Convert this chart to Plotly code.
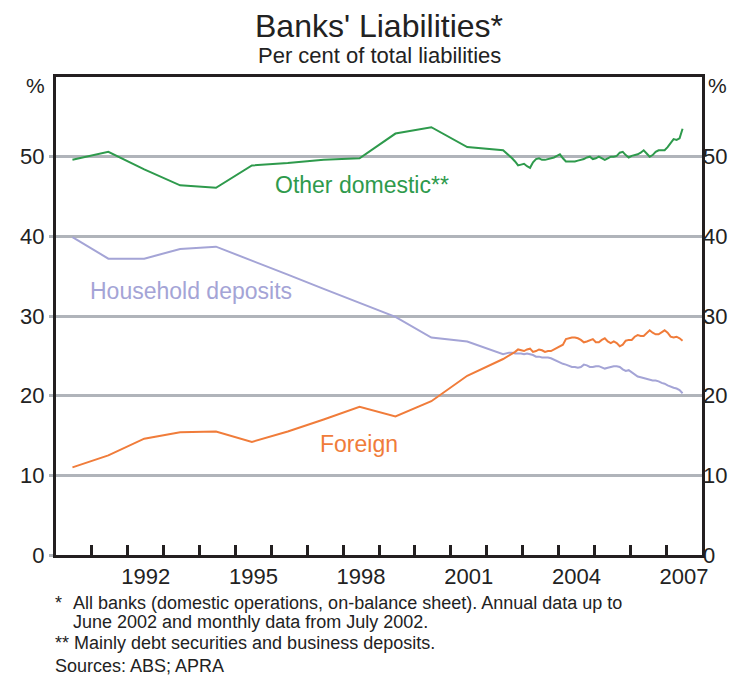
import plotly.graph_objects as go

# ---------------- data ----------------
annual_years = list(range(1990, 2003))  # June of each year
other_domestic_annual = [49.6, 50.6, 48.4, 46.4, 46.1, 48.9, 49.2, 49.6, 49.8, 52.9, 53.7, 51.2, 50.8]
household_annual = [39.9, 37.2, 37.2, 38.4, 38.7, 37.0, 35.2, 33.4, 31.6, 29.9, 27.3, 26.8, 25.2]
foreign_annual = [11.0, 12.5, 14.6, 15.4, 15.5, 14.2, 15.5, 17.0, 18.6, 17.4, 19.3, 22.5, 24.6]

# monthly from July 2002 to June 2007
monthly_start = (2002, 7)
other_domestic_monthly = [
    50.5, 50.2, 49.8, 49.4, 48.9, 49.0, 49.1, 48.8, 48.6, 49.3,
    49.7, 49.8, 49.6, 49.6, 49.7, 49.8, 49.9, 50.1, 50.3, 49.8,
    49.4, 49.4, 49.4, 49.4, 49.5, 49.6, 49.7, 49.9, 50.0, 49.7,
    49.8, 50.0, 49.8, 49.6, 49.8, 50.0, 50.0, 50.1, 50.5, 50.6,
    50.2, 49.9, 50.1, 50.2, 50.3, 50.5, 50.8, 50.4, 50.0, 50.2,
    50.6, 50.8, 50.8, 50.8, 51.2, 51.7, 52.2, 52.1, 52.3, 53.5,
]
household_monthly = [
    25.3, 25.4, 25.4, 25.3, 25.3, 25.3, 25.2, 25.3, 25.2, 25.1,
    24.9, 24.9, 24.8, 24.8, 24.8, 24.7, 24.5, 24.3, 24.2, 24.0,
    23.9, 23.7, 23.6, 23.6, 23.5, 23.6, 23.9, 23.8, 23.6, 23.6,
    23.7, 23.7, 23.5, 23.4, 23.5, 23.6, 23.7, 23.7, 23.6, 23.3,
    23.1, 23.2, 22.9, 22.6, 22.4, 22.3, 22.2, 22.1, 22.0, 21.9,
    21.9, 21.8, 21.6, 21.5, 21.3, 21.1, 21.0, 20.9, 20.7, 20.3,
]
foreign_monthly = [
    24.8, 25.0, 25.2, 25.5, 25.8, 25.7, 25.6, 25.8, 25.9, 25.5,
    25.6, 25.8, 25.7, 25.5, 25.6, 25.6, 25.8, 26.0, 26.1, 26.4,
    27.1, 27.2, 27.3, 27.3, 27.2, 27.0, 26.7, 26.8, 27.0, 27.1,
    26.7, 26.7, 27.0, 27.2, 26.8, 26.6, 26.8, 26.6, 26.2, 26.4,
    26.9, 27.0, 27.0, 27.4, 27.6, 27.5, 27.5, 27.9, 28.2, 27.9,
    27.7, 27.7, 27.9, 28.2, 27.9, 27.4, 27.3, 27.4, 27.2, 26.9,
]

x_tick_labels = ["1992", "1995", "1998", "2001", "2004", "2007"]
y_tick_values = [0, 10, 20, 30, 40, 50]

# ---------------- dates as decimal years ----------------
def dec(year, month):
    return year + (month - 0.5) / 12.0

x_annual = [dec(y, 6) for y in annual_years]
x_monthly = []
yy, mm = monthly_start
for _ in range(len(other_domestic_monthly)):
    x_monthly.append(dec(yy, mm))
    mm += 1
    if mm > 12:
        mm = 1
        yy += 1

x_all = x_annual + x_monthly
other_domestic = other_domestic_annual + other_domestic_monthly
household = household_annual + household_monthly
foreign = foreign_annual + foreign_monthly

GREEN = "#2E9A4C"
ORANGE = "#F07C3A"
PURPLE = "#A4A4D6"
GRID = "#B0B4BA"
INK = "#222222"
FONT = "Liberation Sans, Arial, sans-serif"

fig = go.Figure()
fig.add_trace(go.Scatter(x=x_all, y=other_domestic, mode="lines",
                         line=dict(color=GREEN, width=2), showlegend=False))
fig.add_trace(go.Scatter(x=x_all, y=household, mode="lines",
                         line=dict(color=PURPLE, width=2), showlegend=False))
fig.add_trace(go.Scatter(x=x_all, y=foreign, mode="lines",
                         line=dict(color=ORANGE, width=2), showlegend=False))
# right-hand axis carrier (invisible)
fig.add_trace(go.Scatter(x=[1990, 2008], y=[0, 60], mode="lines", yaxis="y2",
                         line=dict(width=0), hoverinfo="skip", showlegend=False))

year_lbl_pos = [int(t) + 0.5 for t in x_tick_labels]

# page body has an 8px margin, so the plot area (window px 47..702, 77..555)
# is placed at figure px 39..694, 69..547
fig.update_layout(
    width=736, height=676,
    margin=dict(l=39, r=42, t=69, b=129),
    paper_bgcolor="white", plot_bgcolor="white",
    font=dict(family=FONT, color=INK, size=22),
    xaxis=dict(
        range=[1990, 2008], showline=True, linecolor="#231F20", linewidth=3,
        mirror=True, showgrid=False, zeroline=False,
        tickmode="array", tickvals=year_lbl_pos, ticktext=x_tick_labels,
        ticks="", tickfont=dict(size=22, color=INK),
        minor=dict(tickmode="array", tickvals=list(range(1991, 2008)),
                   ticks="inside", ticklen=10, tickwidth=3, tickcolor="#231F20",
                   showgrid=False),
    ),
    yaxis=dict(
        range=[0, 60], showline=True, linecolor="#231F20", linewidth=3,
        mirror=True, showgrid=True, gridcolor=GRID, gridwidth=2.5,
        zeroline=False, tickmode="array", tickvals=y_tick_values,
        ticks="outside", ticklen=4, tickwidth=2.5, tickcolor=GRID,
        tickfont=dict(size=22, color=INK),
    ),
    yaxis2=dict(
        range=[0, 60], overlaying="y", side="right", showline=False,
        showgrid=False, zeroline=False, tickmode="array", tickvals=y_tick_values,
        ticks="", tickfont=dict(size=22, color=INK),
    ),
)

# helpers converting reference (window) pixels to paper coordinates
def px_x(p):
    return (p - 47) / 655.0

def px_y(p):
    return (555 - p) / 478.0

anns = [
    dict(text="Banks' Liabilities*", x=px_x(375), y=px_y(26), size=32),
    dict(text="Per cent of total liabilities", x=px_x(375), y=px_y(55), size=22),
    dict(text="%", x=px_x(26), y=px_y(85), size=21),
    dict(text="%", x=px_x(718), y=px_y(85), size=21),
]
for a in anns:
    fig.add_annotation(text=a["text"], x=a["x"], y=a["y"], xref="paper", yref="paper",
                       xanchor="center", yanchor="middle", showarrow=False,
                       font=dict(family=FONT, size=a["size"], color=INK))

foot = [
    ("*", 44, 603),
    ("All banks (domestic operations, on-balance sheet). Annual data up to", 62, 603),
    ("June 2002 and monthly data from July 2002.", 62, 622),
    ("** Mainly debt securities and business deposits.", 44, 643),
    ("Sources: ABS; APRA", 44, 666),
]
for t, xx, yy2 in foot:
    fig.add_annotation(text=t, x=px_x(xx), y=px_y(yy2), xref="paper", yref="paper",
                       xanchor="left", yanchor="middle", showarrow=False,
                       font=dict(family=FONT, size=18, color=INK))

series_labels = [
    ("Other domestic**", 1998.52, 46.5, GREEN),
    ("Household deposits", 1993.75, 33.1, PURPLE),
    ("Foreign", 1998.45, 13.9, ORANGE),
]
for t, xx, yy2, c in series_labels:
    fig.add_annotation(text=t, x=xx, y=yy2, xref="x", yref="y", showarrow=False,
                       xanchor="center", yanchor="middle",
                       font=dict(family=FONT, size=23, color=c))

fig.write_html("out.html")
